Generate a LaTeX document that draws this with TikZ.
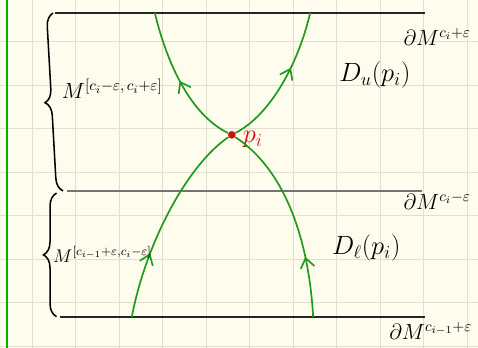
\documentclass[tikz,border=0pt]{standalone}
\usepackage{amsmath,amssymb}
\usetikzlibrary{arrows.meta,positioning,decorations.pathreplacing,decorations.markings}
\definecolor{paper}{HTML}{FEFCEC}
\definecolor{gridc}{HTML}{E2DFD2}
\definecolor{pen}{HTML}{1E9A1E}
\definecolor{redpen}{HTML}{CC1111}
\tikzset{
  flow/.style={pen,line width=1.1pt},
  flowarrow/.style={postaction={decorate,decoration={markings,
    mark=at position #1 with {\arrow{Straight Barb[length=2.2mm,width=3.2mm,line width=1.1pt]}}}}},
  level/.style={line width=1.1pt},
  bracepen/.style={line width=1pt,decorate,decoration={brace,amplitude=0.3cm}}
}
\begin{document}
\begin{tikzpicture}[x=1cm,y=1cm]
\useasboundingbox (0,0) rectangle (10.99,8);
% paper
\fill[paper] (0,0) rectangle (10.99,8);
\foreach \gx in {0.74,1.74,...,10.74}{\draw[gridc,line width=0.8pt] (\gx,0)--(\gx,8);}
\foreach \gy in {0.04,1.04,...,7.04}{\draw[gridc,line width=0.8pt] (0,\gy)--(10.99,\gy);}
\draw[green!70!black,line width=1.3pt] (0.16,0)--(0.16,8);
% level sets
\coordinate (tl) at (1.26,7.70); \coordinate (tr) at (9.77,7.70);
\coordinate (ml) at (1.54,3.61); \coordinate (mr) at (9.70,3.61);
\coordinate (bl) at (1.38,0.71); \coordinate (br) at (9.77,0.71);
\draw[level,black!85] (tl)--(tr);
\draw[level,black!55] (ml)--(mr);
\draw[level,black!85] (bl)--(br);
\node[anchor=east] (top) at (10.95,7.15) {\Large$\partial M^{c_i+\varepsilon}$};
\node[anchor=east] (mid) at (10.95,3.38) {\Large$\partial M^{c_i-\varepsilon}$};
\node[anchor=east] (bot) at (10.98,0.40) {\Large$\partial M^{c_{i-1}+\varepsilon}$};
% critical point and flow lines
\node[circle,fill=redpen,inner sep=0pt,minimum size=5pt] (p) at (5.33,4.90) {};
\node[redpen,right=1pt of p,yshift=-3pt] (plabel) {\LARGE$p_i$};
\coordinate (ul) at (3.56,7.70); \coordinate (ur) at (7.13,7.70);
\coordinate (ll) at (3.03,0.71); \coordinate (lr) at (7.20,0.71);
\draw[flow,flowarrow=0.5] (p) .. controls (4.4,5.35) and (3.85,6.5) .. (ul);
\draw[flow,flowarrow=0.6] (p) .. controls (6.2,5.35) and (6.85,6.5) .. (ur);
\draw[flow,flowarrow=0.32] (ll) .. controls (3.35,2.4) and (4.3,4.2) .. (p);
\draw[flow,flowarrow=0.3] (lr) .. controls (7.1,2.5) and (6.55,4.1) .. (p);
\node (Du) at (8.62,6.28) {\LARGE$D_u(p_i)$};
\node (Dl) at (8.42,2.30) {\LARGE$D_\ell(p_i)$};
% braces
\draw[bracepen] (1.45,3.61) -- (1.22,7.70);
\draw[bracepen] (1.30,0.72) -- (1.30,3.56);
\node[anchor=west] (Mup) at (1.30,5.95) {\Large$M^{[c_i-\varepsilon,\,c_i+\varepsilon]}$};
\node[anchor=west] (Mlow) at (1.10,2.15) {\large$M^{[c_{i-1}+\varepsilon,c_i-\varepsilon]}$};
\end{tikzpicture}
\end{document}
